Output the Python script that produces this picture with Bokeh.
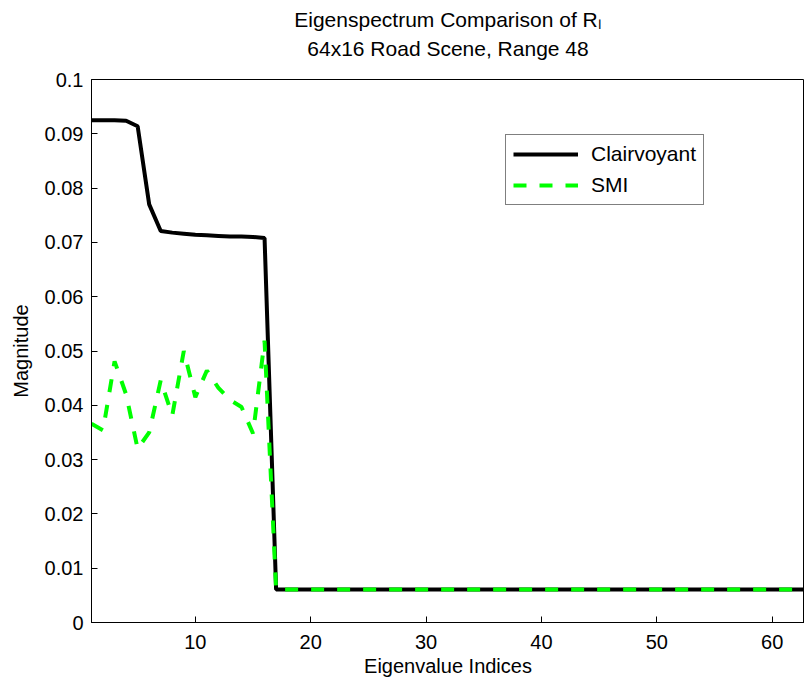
from bokeh.plotting import figure
from bokeh.models import (Range1d, FixedTicker, Title, Legend, LegendItem)
from bokeh.embed import file_html
from bokeh.resources import INLINE

# ---- data ----
indices = list(range(1, 64))
clairvoyant = [0.0925, 0.0925, 0.0925, 0.0924, 0.0914, 0.0770, 0.0721, 0.0718,
               0.0716, 0.0714, 0.0713, 0.0712, 0.0711, 0.0711, 0.0710, 0.0708,
               0.0061, 0.0061, 0.0061, 0.0061, 0.0061, 0.0061, 0.0061, 0.0061,
               0.0061, 0.0061, 0.0061, 0.0061, 0.0061, 0.0061, 0.0061, 0.0061,
               0.0061, 0.0061, 0.0061, 0.0061, 0.0061, 0.0061, 0.0061, 0.0061,
               0.0061, 0.0061, 0.0061, 0.0061, 0.0061, 0.0061, 0.0061, 0.0061,
               0.0061, 0.0061, 0.0061, 0.0061, 0.0061, 0.0061, 0.0061, 0.0061,
               0.0061, 0.0061, 0.0061, 0.0061, 0.0061, 0.0061, 0.0061]
smi = [0.0366, 0.0354, 0.0481, 0.0420, 0.0320, 0.0350, 0.0446, 0.0381,
       0.0500, 0.0415, 0.0464, 0.0432, 0.0410, 0.0397, 0.0348, 0.0519,
       0.0061, 0.0061, 0.0061, 0.0061, 0.0061, 0.0061, 0.0061, 0.0061,
       0.0061, 0.0061, 0.0061, 0.0061, 0.0061, 0.0061, 0.0061, 0.0061,
       0.0061, 0.0061, 0.0061, 0.0061, 0.0061, 0.0061, 0.0061, 0.0061,
       0.0061, 0.0061, 0.0061, 0.0061, 0.0061, 0.0061, 0.0061, 0.0061,
       0.0061, 0.0061, 0.0061, 0.0061, 0.0061, 0.0061, 0.0061, 0.0061,
       0.0061, 0.0061, 0.0061, 0.0061, 0.0061, 0.0061, 0.0061]
x_ticks = [10, 20, 30, 40, 50, 60]
y_ticks = [0.0, 0.01, 0.02, 0.03, 0.04, 0.05, 0.06, 0.07, 0.08, 0.09, 0.1]
y_tick_labels = ["0", "0.01", "0.02", "0.03", "0.04", "0.05", "0.06", "0.07",
                 "0.08", "0.09", "0.1"]
series_names = ["Clairvoyant", "SMI"]
title_line1 = "Eigenspectrum Comparison of R\u2097"
title_line2 = "64x16 Road Scene, Range 48"
x_label = "Eigenvalue Indices"
y_label = "Magnitude"

FONT = "Liberation Sans"

p = figure(width=804, height=684, output_backend="svg", toolbar_location=None,
           x_range=Range1d(1, 62.8), y_range=Range1d(0, 0.1),
           min_border_left=91, min_border_right=0, min_border_top=79,
           min_border_bottom=62, title=None)
p.background_fill_color = "white"
p.border_fill_color = "white"
p.outline_line_color = "black"
p.outline_line_width = 1
p.xgrid.visible = False
p.ygrid.visible = False

xa = p.xaxis[0]
xa.ticker = FixedTicker(ticks=x_ticks)
ya = p.yaxis[0]
ya.ticker = FixedTicker(ticks=y_ticks)
ya.major_label_overrides = {v: s for v, s in zip(y_ticks, y_tick_labels)}
for ax in (xa, ya):
    ax.major_tick_in = 6
    ax.major_tick_out = 0
    ax.minor_tick_in = 0
    ax.minor_tick_out = 0
    ax.axis_line_color = "black"
    ax.major_tick_line_color = "black"
    ax.major_label_text_font = FONT
    ax.major_label_text_font_size = "20px"
    ax.major_label_text_color = "black"
    ax.axis_label_text_font = FONT
    ax.axis_label_text_font_size = "20px"
    ax.axis_label_text_font_style = "normal"
    ax.axis_label_text_color = "black"
xa.axis_label = x_label
ya.axis_label = y_label
xa.major_label_standoff = 12
xa.axis_label_standoff = 3
ya.major_label_standoff = 8
ya.axis_label_standoff = 10

# titles (first added = closest to the plot)
p.add_layout(Title(text=title_line2, align="center", text_font=FONT,
                   text_font_size="21px", text_font_style="normal",
                   text_color="black", standoff=40), "above")
p.add_layout(Title(text=title_line1, align="center", text_font=FONT,
                   text_font_size="21px", text_font_style="normal",
                   text_color="black", standoff=-32), "above")

r1 = p.line(indices, clairvoyant, line_color="black", line_width=4)
r2 = p.line(indices, smi, line_color="#00ff00", line_width=4, line_dash="13 13")

legend = Legend(items=[LegendItem(label=series_names[0], renderers=[r1]),
                       LegendItem(label=series_names[1], renderers=[r2])],
                location=(414, 417), orientation="vertical",
                label_text_font=FONT, label_text_font_size="21px",
                label_text_color="black",
                glyph_width=65, glyph_height=22, label_height=22,
                label_standoff=13, spacing=7, padding=7, margin=0,
                border_line_color="black", border_line_width=1,
                background_fill_alpha=1.0)
p.add_layout(legend, "center")

open("out.html", "w").write(file_html(p, INLINE))
